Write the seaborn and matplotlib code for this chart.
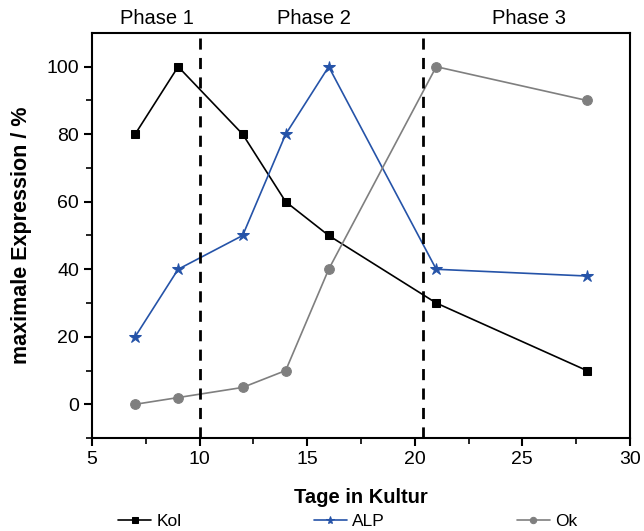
import pandas as pd
import matplotlib.pyplot as plt
import seaborn as sns

# Daten
tage = [7, 9, 12, 14, 16, 21, 28]
kol = [80, 100, 80, 60, 50, 30, 10]
alp = [20, 40, 50, 80, 100, 40, 38]
ok = [0, 2, 5, 10, 40, 100, 90]
gruppen = ['Kol', 'ALP', 'Ok']
phasen = ['Phase 1', 'Phase 2', 'Phase 3']
phasen_x = [8.0, 15.3, 25.3]
grenzen = [10, 20.4]

df = pd.DataFrame({
	'Tage': tage * 3,
	'Wert': kol + alp + ok,
	'Gruppe': [g for g in gruppen for _ in tage],
})

sns.set_style('ticks')
plt.rcParams['font.family'] = ['Liberation Sans', 'DejaVu Sans']
plt.rcParams['text.color'] = 'black'
plt.rcParams['xtick.color'] = 'black'
plt.rcParams['ytick.color'] = 'black'
plt.rcParams['axes.labelcolor'] = 'black'

fig = plt.figure(figsize=(6.44, 5.31), dpi=100)
ax = fig.add_axes([0.143, 0.175, 0.835, 0.763])

farben = {'Kol': 'black', 'ALP': '#2553a8', 'Ok': '#7f7f7f'}
marker = {'Kol': 's', 'ALP': '*', 'Ok': 'o'}
groesse = {'Kol': 6, 'ALP': 9, 'Ok': 7}

for g in gruppen:
	sns.lineplot(data=df[df['Gruppe'] == g], x='Tage', y='Wert', ax=ax,
		color=farben[g], marker=marker[g], markersize=groesse[g],
		markeredgecolor=farben[g], linewidth=1.2, label=g)

for x in grenzen:
	ax.axvline(x, color='black', linestyle=(0, (4, 3)), linewidth=2)

for x, t in zip(phasen_x, phasen):
	ax.text(x, 1.012, t, transform=ax.get_xaxis_transform(), ha='center', va='bottom', fontsize=14.5)

ax.set_xlim(5, 30)
ax.set_ylim(-10, 110)
ax.set_xticks([5, 10, 15, 20, 25, 30])
ax.set_xticks([7.5, 12.5, 17.5, 22.5, 27.5], minor=True)
ax.set_yticks([0, 20, 40, 60, 80, 100])
ax.set_yticks([-10, 10, 30, 50, 70, 90], minor=True)
ax.tick_params(axis='both', which='major', labelsize=14, length=6, width=1.5)
ax.tick_params(axis='both', which='minor', length=4, width=1.2)
for s in ax.spines.values():
	s.set_linewidth(1.5)
	s.set_color('black')

ax.set_xlabel('Tage in Kultur', fontsize=14.5, fontweight='bold', labelpad=14)
ax.set_ylabel('maximale Expression / %', fontsize=15.5, fontweight='bold', labelpad=10)

ax.get_legend().remove()
h, l = ax.get_legend_handles_labels()
fig.legend(h, l, loc='lower center', ncol=3, frameon=False, fontsize=12.5,
	bbox_to_anchor=(0.54, -0.025), columnspacing=7.6, handlelength=1.9,
	handletextpad=0.3, markerscale=0.65)

fig.savefig('out.png', dpi=100)
